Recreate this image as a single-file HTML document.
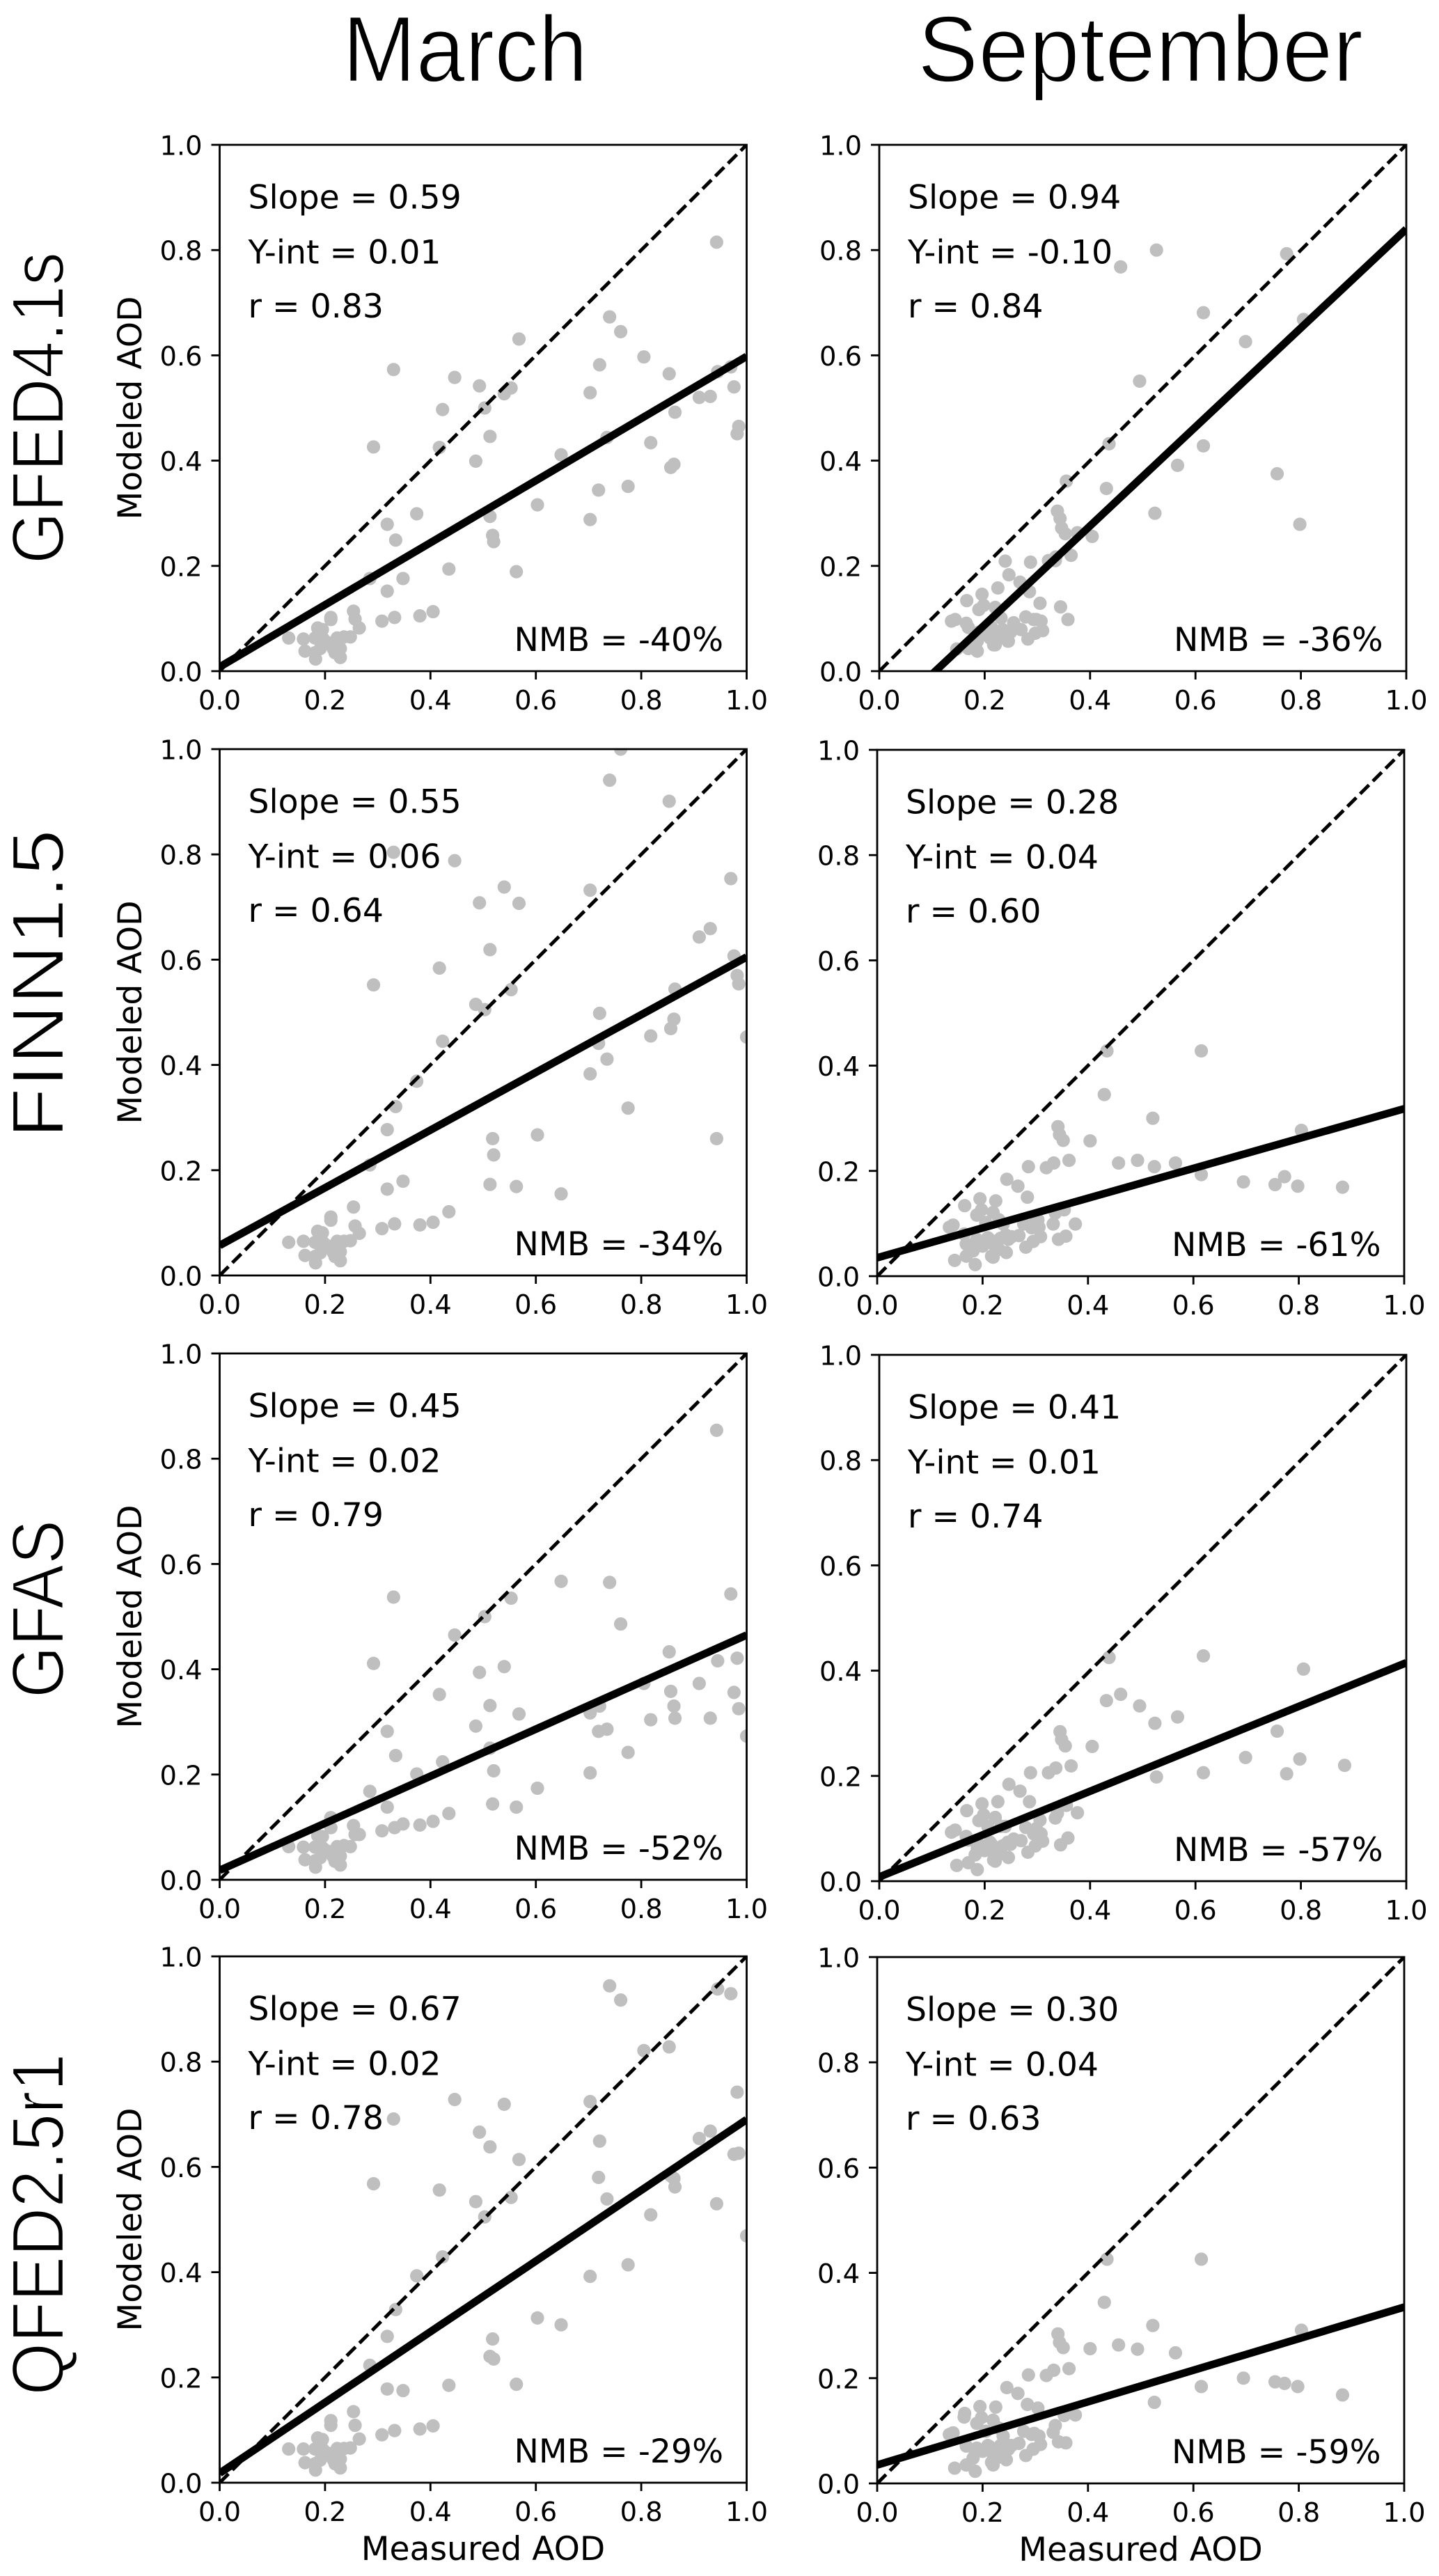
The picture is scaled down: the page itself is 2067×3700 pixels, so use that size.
<!DOCTYPE html>
<html lang="en">
<head>
<meta charset="utf-8">
<title>Modeled vs Measured AOD</title>
<style>
html,body{margin:0;padding:0;background:#fff}
svg{display:block}
text{fill:#000}
.tick{font:38.4px "DejaVu Sans",sans-serif}
.stat{font:47.3px "DejaVu Sans",sans-serif}
.ax{font:47.2px "DejaVu Sans",sans-serif}
.big{font-family:"Liberation Sans",sans-serif;stroke:#fff;stroke-width:2.4px}
</style>
</head>
<body>
<svg id="figure" xmlns="http://www.w3.org/2000/svg" width="2067" height="3700" viewBox="0 0 2067 3700">
  <rect x="0" y="0" width="2067" height="3700" fill="#fff"/>
  <text class="big" x="668" y="117" font-size="135" text-anchor="middle" textLength="352" lengthAdjust="spacingAndGlyphs">March</text>
  <text class="big" x="1638" y="117" font-size="135" text-anchor="middle" textLength="640" lengthAdjust="spacingAndGlyphs">September</text>
  <text class="big" transform="translate(91,586) rotate(-90)" font-size="106" text-anchor="middle" textLength="448" lengthAdjust="spacingAndGlyphs">GFED4.1s</text>
  <text class="big" transform="translate(91,1413) rotate(-90)" font-size="106" text-anchor="middle" textLength="444" lengthAdjust="spacingAndGlyphs">FINN1.5</text>
  <text class="big" transform="translate(91,2311) rotate(-90)" font-size="106" text-anchor="middle" textLength="256" lengthAdjust="spacingAndGlyphs">GFAS</text>
  <text class="big" transform="translate(91,3195) rotate(-90)" font-size="106" text-anchor="middle" textLength="491" lengthAdjust="spacingAndGlyphs">QFED2.5r1</text>
</svg>
<script>
// ---- Tick values and labels ----
const tickValues = [0, 0.2, 0.4, 0.6, 0.8, 1.0];
const tickLabels = ['0.0', '0.2', '0.4', '0.6', '0.8', '1.0'];

// ---- March: measured AOD and modeled AOD per inventory (null = outside the axes) ----
const marchMeasured = [.761,.740,.853,.330,.446,.970,.540,.493,.568,.703,.931,.910,.976,.513,.417,.982,.985,.292,.553,.864,.486,.503,.721,.862,.856,.818,.423,1.0,.719,.735,.374,.703,.334,.775,.318,.603,.518,.943,.945,.805,.520,.513,.285,.348,.318,.563,.648,.254,.435,.211,.211,.405,.257,.332,.380,.265,.308,.186,.195,.131,.159,.181,.196,.203,.191,.209,.223,.236,.248,.226,.216,.229,.219,.229,.162,.181,.182];
const marchGFED = [.645,.673,.565,.573,.558,.578,.527,.542,.631,.529,.522,.520,.540,.446,.425,.451,.465,.426,.538,.492,.399,.500,.582,.393,.387,.434,.497,null,.344,.444,.299,.288,.249,.351,.279,.316,.258,.815,.569,.597,.246,.294,.176,.176,.152,.189,.411,.114,.194,.102,.098,.113,.099,.102,.105,.082,.095,.082,.079,.063,.061,.063,.062,.055,.043,.053,.063,.065,.065,.048,.042,.043,.035,.026,.038,.035,.023];
const marchFINN = [1.0,.941,.901,.804,.788,.754,.738,.708,.707,.732,.659,.643,.607,.619,.584,.570,.554,.552,.543,.544,.515,.505,.498,.487,.469,.455,.445,.453,.441,.411,.369,.383,.321,.318,.277,.267,.260,.260,null,null,.229,.173,.210,.179,.164,.169,.155,.130,.121,.111,.105,.101,.094,.098,.096,.080,.089,.084,.081,.063,.065,.063,.063,.057,.043,.055,.065,.065,.066,.050,.043,.045,.036,.028,.038,.036,.024];
const marchGFAS = [.486,.565,.433,.537,.465,.543,.405,.394,.315,.317,.307,.373,.356,.331,.352,.421,.325,.411,.535,.307,.292,.500,.330,.330,.358,.304,.224,.273,.282,.286,.201,.203,.236,.242,.282,.174,.144,.854,.416,.373,.207,.250,.168,.106,.138,.138,.567,.103,.126,.099,.118,.111,.086,.099,.104,.086,.093,.084,.082,.063,.062,.062,.060,.055,.042,.053,.063,.065,.063,.050,.043,.045,.035,.028,.038,.036,.024];
const marchQFED = [.917,.944,.828,.691,.728,.929,.719,.666,.614,.724,.668,.654,.624,.638,.556,.742,.626,.568,.542,.562,.534,.505,.649,.578,.583,.509,.429,.469,.580,.539,.393,.392,.329,.414,.278,.313,.273,.530,.938,.821,.235,.240,.223,.175,.178,.187,.300,.135,.185,.118,.109,.108,.109,.099,.102,.083,.091,.085,.082,.064,.064,.064,.063,.057,.043,.055,.065,.065,.066,.050,.043,.045,.036,.028,.038,.036,.024];

// ---- September: measured AOD and modeled AOD per inventory ----
const septMeasured = [.436,.615,.615,.431,.523,.805,.343,.346,.353,.404,.364,.458,.494,.526,.566,.335,.321,.287,.246,.267,.285,.695,.773,.755,.798,.883,.225,.195,.166,.198,.220,.189,.355,.338,.376,.334,.305,.307,.144,.137,.231,.239,.206,.278,.293,.310,.296,.282,.358,.344,.269,.255,.244,.234,.210,.189,.169,.186,.200,.220,.231,.245,.220,.182,.169,.147,.186,.217,.165,.213,.249,.298];
const septGFED = [.432,.681,.428,.347,.300,.668,.290,.272,.261,.256,.220,.768,.551,.800,.391,.217,.210,.207,.183,.169,.151,.626,.793,.375,.279,null,.158,.146,.134,.125,.121,.117,.361,.304,.263,.210,.129,.095,.098,.095,.101,.209,.083,.103,.098,.077,.072,.061,.098,.122,.079,.092,.057,.079,.063,.074,.083,.057,.074,.059,.074,.057,.050,.048,.043,.042,.038,.050,.091,.083,.074,.098];
const septFINN = [.428,.428,.193,.345,.300,.277,.284,.269,.258,.257,.220,.215,.220,.208,.215,.215,.206,.208,.184,.171,.150,.179,.189,.174,.171,.169,.143,.147,.134,.126,.121,.116,.126,.120,.099,.099,.107,.093,.097,.093,.107,.099,.102,.099,.092,.075,.066,.055,.076,.070,.077,.075,.078,.072,.073,.070,.061,.061,.057,.061,.051,.045,.036,.048,.038,.030,.022,.038,.080,.070,.070,.100];
const septGFAS = [.425,.428,.206,.343,.300,.403,.284,.269,.257,.256,.219,.355,.333,.198,.312,.215,.206,.206,.184,.171,.151,.235,.204,.285,.232,.220,.151,.147,.134,.126,.121,.115,.144,.129,.130,.120,.116,.090,.097,.093,.104,.104,.104,.102,.090,.076,.067,.055,.082,.069,.077,.080,.074,.067,.074,.070,.078,.063,.058,.060,.052,.045,.038,.050,.035,.030,.022,.040,.085,.070,.070,.100];
const septQFED = [.426,.426,.184,.344,.300,.291,.284,.268,.258,.256,.218,.263,.255,.154,.248,.215,.205,.206,.182,.171,.150,.200,.190,.193,.184,.168,.145,.146,.133,.125,.120,.114,.129,.110,.130,.097,.143,.090,.096,.093,.105,.090,.099,.099,.093,.074,.065,.053,.077,.079,.076,.072,.074,.072,.072,.067,.071,.061,.061,.055,.050,.045,.035,.048,.035,.029,.023,.040,.126,.070,.065,.095];

// ---- Printed statistics, rows then March/September ----
const slopeValues = [[0.59, 0.94], [0.55, 0.28], [0.45, 0.41], [0.67, 0.30]];
const interceptValues = [[0.01, -0.10], [0.06, 0.04], [0.02, 0.01], [0.02, 0.04]];
const correlationValues = [[0.83, 0.84], [0.64, 0.60], [0.79, 0.74], [0.78, 0.63]];
const nmbValues = [[-40, -36], [-34, -61], [-52, -57], [-29, -59]];

// ---- Fit line parameters (unrounded) ----
const fitSlope = [[0.59, 0.94], [0.548, 0.283], [0.447, 0.407], [0.672, 0.30]];
const fitIntercept = [[0.008, -0.10], [0.057, 0.035], [0.018, 0.008], [0.018, 0.035]];

const rowKeys = ['gfed', 'finn', 'gfas', 'qfed'];
const columnKeys = ['march', 'september'];
const measuredByColumn = [marchMeasured, septMeasured];
const modeledByPanel = [[marchGFED, septGFED], [marchFINN, septFINN], [marchGFAS, septGFAS], [marchQFED, septQFED]];

// ---- Layout (not data) ----
const frameLeft = [[315.5, 1263], [315.5, 1260], [315.5, 1263], [315.5, 1260]];
const frameTop = [[208, 208], [1076, 1077], [1944, 1946], [2810, 2811]];
const FRAME_W = 757, FRAME_H = 756;

const SVG_NS = 'http://www.w3.org/2000/svg';
const figure = document.getElementById('figure');

function make(tag, attrs, parent, content) {
  const node = document.createElementNS(SVG_NS, tag);
  for (const k in attrs) node.setAttribute(k, attrs[k]);
  if (content !== undefined) node.textContent = content;
  parent.appendChild(node);
  return node;
}
function xAxisScale(left) { return v => left + v * FRAME_W; }
function yAxisScale(top) { return v => top + (1 - v) * FRAME_H; }

function drawPanel(row, col) {
  const left = frameLeft[row][col], top = frameTop[row][col];
  const sx = xAxisScale(left), sy = yAxisScale(top);
  const key = rowKeys[row] + '-' + columnKeys[col];

  const panel = make('g', {}, figure);
  
  

  const clip = make('clipPath', { id: 'clip-' + key }, panel);
  make('rect', { x: left, y: top, width: FRAME_W, height: FRAME_H }, clip);

  const marks = make('g', { 'clip-path': 'url(#clip-' + key + ')' }, panel);
  
  

  const xs = measuredByColumn[col], ys = modeledByPanel[row][col];
  xs.forEach((x, i) => {
    if (ys[i] === null) return;
    const dot = make('circle', { cx: sx(x), cy: sy(ys[i]), r: 9.6, fill: '#bfbfbf' }, marks);
    
    
  });

  const oneToOne = make('line', { x1: sx(0), y1: sy(0), x2: sx(1), y2: sy(1), stroke: '#000', 'stroke-width': 5, 'stroke-dasharray': '18 7.8' }, marks);
  
  

  const m = fitSlope[row][col], b = fitIntercept[row][col];
  const fit = make('line', { x1: sx(0), y1: sy(b), x2: sx(1), y2: sy(m + b), stroke: '#000', 'stroke-width': 11 }, marks);
  
  

  const frame = make('rect', { x: left, y: top, width: FRAME_W, height: FRAME_H, fill: 'none', stroke: '#000', 'stroke-width': 2.8 }, panel);
  
  

  tickValues.forEach((v, i) => {
    const xt = make('line', { x1: sx(v), y1: top + FRAME_H, x2: sx(v), y2: top + FRAME_H + 12, stroke: '#000', 'stroke-width': 2.8 }, panel);
    
    
    const xl = make('text', { class: 'tick', x: sx(v), y: top + FRAME_H + 55, 'text-anchor': 'middle' }, panel, tickLabels[i]);
    
    
    const yt = make('line', { x1: left - 12, y1: sy(v), x2: left, y2: sy(v), stroke: '#000', 'stroke-width': 2.8 }, panel);
    
    
    const yl = make('text', { class: 'tick', x: left - 25, y: sy(v) + 14.5, 'text-anchor': 'end' }, panel, tickLabels[i]);
    
    
  });

  // In the reference the left edge of the September y tick labels is cropped.
  if (col === 1) {
    const crop = make('rect', { x: left - 100, y: top - 30, width: 15.5, height: FRAME_H + 50, fill: '#fff' }, panel);
    
    
  }

  const s1 = make('text', { class: 'stat', x: left + 41, y: top + 91.5 }, panel, 'Slope = ' + slopeValues[row][col].toFixed(2));
  
  
  const s2 = make('text', { class: 'stat', x: left + 41, y: top + 170.5 }, panel, 'Y-int = ' + interceptValues[row][col].toFixed(2));
  
  
  const s3 = make('text', { class: 'stat', x: left + 41, y: top + 248 }, panel, 'r = ' + correlationValues[row][col].toFixed(2));
  
  
  const s4 = make('text', { class: 'stat', x: left + 423, y: top + FRAME_H - 29 }, panel, 'NMB = ' + nmbValues[row][col] + '%');
  
  

  if (col === 0) {
    const yTitle = make('text', { class: 'ax', transform: 'translate(203,' + (top + FRAME_H / 2) + ') rotate(-90)', 'text-anchor': 'middle', textLength: 321, lengthAdjust: 'spacingAndGlyphs' }, panel, 'Modeled AOD');
    
    
  }
  if (row === 3) {
    const xTitle = make('text', { class: 'ax', x: left + FRAME_W / 2, y: top + FRAME_H + 111, 'text-anchor': 'middle' }, panel, 'Measured AOD');
    
    
  }
}

for (let r = 0; r < rowKeys.length; r++) {
  for (let c = 0; c < columnKeys.length; c++) drawPanel(r, c);
}
</script>
</body>
</html>
